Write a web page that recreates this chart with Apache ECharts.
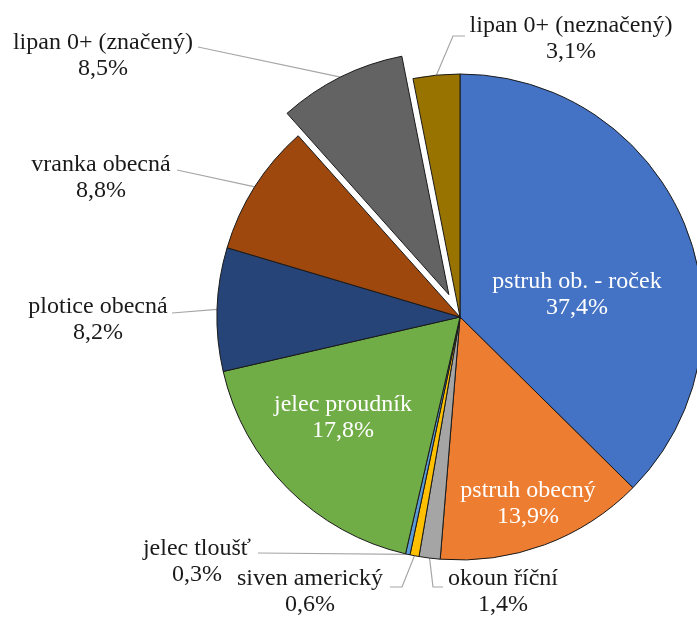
<!DOCTYPE html>
<html>
<head>
<meta charset="utf-8">
<script src="https://cdn.jsdelivr.net/npm/echarts@6/dist/echarts.min.js"></script>
<style>html,body{margin:0;padding:0;background:#fff}#c{width:697px;height:619px}</style>
</head>
<body>
<div id="c"></div>
<script>
// Data (clockwise from 12 o'clock)
const names = ['pstruh ob. - roček','pstruh obecný','okoun říční','siven americký','jelec tloušť','jelec proudník','plotice obecná','vranka obecná','lipan 0+ (značený)','lipan 0+ (neznačený)'];
const values = [37.4, 13.9, 1.4, 0.6, 0.3, 17.8, 8.2, 8.8, 8.5, 3.1];
const colors = ['#4472C4','#ED7D31','#A5A5A5','#FFC000','#5B9BD5','#70AD47','#264478','#9E480E','#636363','#997300'];
const exploded = ['lipan 0+ (značený)'];
const insideLabels = ['pstruh ob. - roček','pstruh obecný','jelec proudník'];

// Layout (px)
const CX = 460, CY = 317, R = 243, EXPLODE = 25, LABEL_DIST = 5;
// Label placement (layout only): label centre, and leader elbow/end points
const labelPos = {
  'pstruh ob. - roček':   {x: 577, y: 295},
  'pstruh obecný':        {x: 528, y: 504},
  'jelec proudník':       {x: 343, y: 418},
  'okoun říční':          {x: 503, y: 592, line: [[433,587],[443,587]]},
  'siven americký':       {x: 310, y: 592, line: [[402,587],[390,587]]},
  'jelec tloušť':         {x: 197, y: 562, line: [[258,553]]},
  'plotice obecná':       {x: 98,  y: 320, line: [[172,313]]},
  'vranka obecná':        {x: 101, y: 178, line: [[177,170]]},
  'lipan 0+ (značený)':   {x: 103, y: 56,  line: [[198,47]]},
  'lipan 0+ (neznačený)': {x: 571, y: 39,  line: [[453,36],[465,36]]}
};

const fmt = v => v.toFixed(1).replace('.', ',') + '%';

// mid angle (clockwise from top) of each slice, from the values
const total = values.reduce((a, b) => a + b, 0);
let acc = 0;
const mids = values.map(v => { const m = (acc + v / 2) / total * 2 * Math.PI; acc += v; return m; });
const offsets = names.map((n, i) => exploded.includes(n)
  ? [Math.sin(mids[i]) * EXPLODE, -Math.cos(mids[i]) * EXPLODE] : [0, 0]);

const chart = echarts.init(document.getElementById('c'), null, {renderer: 'canvas'});
const data = names.map((n, i) => {
  const inside = insideLabels.includes(n);
  const item = {
    name: n,
    value: values[i],
    selected: exploded.includes(n),
    itemStyle: {color: colors[i]},
    label: inside ? {position: 'inside', color: '#fff'} : {position: 'outside', color: '#1a1a1a'},
    labelLine: {show: !inside}
  };
  if (exploded.includes(n)) {
    // selected slice: its label follows the slice, so place it via the leader lengths
    const p = labelPos[n];
    const nx = Math.sin(mids[i]), ny = -Math.cos(mids[i]);
    const tx = p.x - offsets[i][0], ty = p.y - offsets[i][1];
    const len = (ty - CY) / ny - R;
    const x2 = CX + (R + len) * nx;
    const len2 = (nx < 0 ? (x2 - tx) : (tx - x2)) - LABEL_DIST;
    item.labelLine = {show: true, length: len, length2: len2};
  }
  return item;
});

chart.setOption({
  animation: false,
  backgroundColor: '#fff',
  series: [{
    type: 'pie',
    center: [CX, CY],
    radius: R,
    startAngle: 90,
    clockwise: true,
    selectedMode: 'single',
    selectedOffset: EXPLODE,
    avoidLabelOverlap: false,
    itemStyle: {borderColor: '#1a1a1a', borderWidth: 1},
    select: {itemStyle: {borderColor: '#1a1a1a', borderWidth: 1}},
    emphasis: {disabled: true},
    label: {
      fontFamily: 'Liberation Serif',
      fontSize: 24,
      lineHeight: 26,
      align: 'center',
      distanceToLabelLine: LABEL_DIST,
      formatter: p => p.name + '\n' + fmt(p.value)
    },
    labelLine: {lineStyle: {color: '#A6A6A6', width: 1.2}, length: 20, length2: 20},
    labelLayout: function (params) {
      const i = params.dataIndex;
      const n = names[i];
      const p = labelPos[n];
      const off = offsets[i];
      const out = {align: 'center', verticalAlign: 'middle'};
      if (!exploded.includes(n)) {
        out.x = p.x; out.y = p.y;
      }
      if (p.line && params.labelLinePoints) {
        out.labelLinePoints = [params.labelLinePoints[0]].concat(
          p.line.map(q => [q[0] - off[0], q[1] - off[1]]));
      }
      return out;
    },
    data: data
  }]
});
</script>
</body>
</html>
